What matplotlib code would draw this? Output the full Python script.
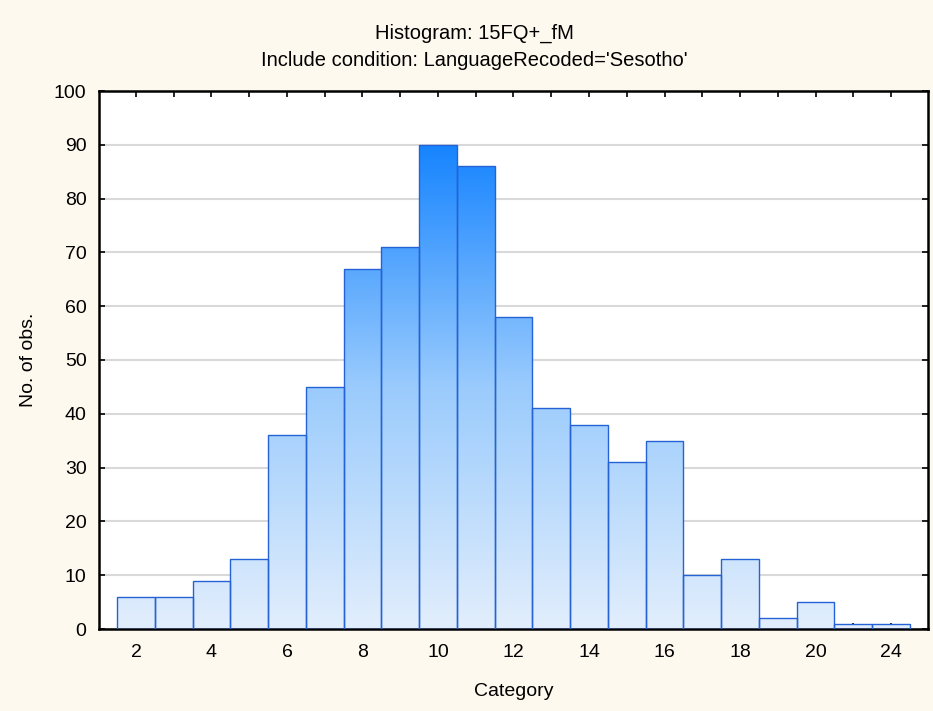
import matplotlib
matplotlib.use("Agg")
import matplotlib.pyplot as plt
from matplotlib.colors import LinearSegmentedColormap
import numpy as np

categories = ["2", "3", "4", "5", "6", "7", "8", "9", "10", "11", "12", "13",
              "14", "15", "16", "17", "18", "19", "20", "21", "24"]
counts = [6, 6, 9, 13, 36, 45, 67, 71, 90, 86, 58, 41, 38, 31, 35, 10, 13, 2, 5, 1, 1]
yticks = [0, 10, 20, 30, 40, 50, 60, 70, 80, 90, 100]
title1 = "Histogram: 15FQ+_fM"
title2 = "Include condition: LanguageRecoded='Sesotho'"

base = "Liberation Sans"
bg = "#FEF9EE"
fig = plt.figure(figsize=(9.33, 7.11), dpi=100, facecolor=bg)
ax = fig.add_axes([99/933, 1 - 629/711, (928-99)/933, (629-91)/711])
ax.set_facecolor("white")

x = np.arange(len(counts))
bars = ax.bar(x, counts, width=1.0, facecolor="none", edgecolor="#2462D6",
              linewidth=1.0, zorder=3)

cmap = LinearSegmentedColormap.from_list("g", ["#E2EEFC", "#9ACBFD", "#1684FF"])
grad = np.linspace(0, 1, 256).reshape(-1, 1)
for b in bars:
    im = ax.imshow(grad, cmap=cmap, aspect="auto", origin="lower",
                   extent=(x.min() - 0.5, x.max() + 0.5, 0, max(counts)),
                   zorder=2, interpolation="bilinear")
    im.set_clip_path(b)

ax.set_yticks(yticks)
ax.set_yticklabels([str(v) for v in yticks], fontfamily=base, fontsize=14)
ax.yaxis.grid(True, color="#D9D9D9", linewidth=1.5, zorder=1)
ax.set_axisbelow(True)

ax.set_xticks(x)
ax.set_xticklabels([c if i % 2 == 0 else "" for i, c in enumerate(categories)],
                   fontfamily=base, fontsize=14)
ax.tick_params(axis="both", direction="in", length=4, width=1.2, color="black",
               top=True, right=True)
ax.tick_params(axis="x", pad=11)
ax.tick_params(axis="y", pad=9)

for s in ax.spines.values():
    s.set_linewidth(1.8)
    s.set_color("black")

ax.set_ylim(0, 100)
ax.set_xlim(-0.98, len(counts) - 1 + 0.98)

ax.set_xlabel("Category", fontfamily=base, fontsize=14, labelpad=16)
ax.set_ylabel("No. of obs.", fontfamily=base, fontsize=14, labelpad=12)

fig.text(474/933, 1 - 33/711, title1, ha="center", va="center",
         fontfamily=base, fontsize=14.5)
fig.text(474/933, 1 - 61/711, title2, ha="center", va="center",
         fontfamily=base, fontsize=14.5)

fig.savefig("out.png", dpi=100, facecolor=bg)
